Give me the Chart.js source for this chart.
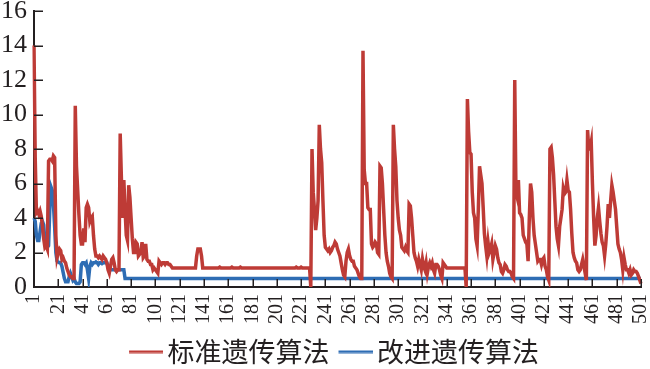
<!DOCTYPE html>
<html>
<head>
<meta charset="utf-8">
<script src="https://cdn.jsdelivr.net/npm/chart.js@4/dist/chart.umd.min.js"></script>
<style>
html,body{margin:0;padding:0;background:#fff;}
#wrap{width:650px;height:369px;position:relative;}
</style>
</head>
<body>
<div id="wrap"><canvas id="c"></canvas></div>
<script>
// categories: iteration number 1..501
const iterations = [];
for (let i = 1; i <= 501; i++) iterations.push(String(i));

const seriesNames = ['标准遗传算法', '改进遗传算法'];
const yTicks = [0, 2, 4, 6, 8, 10, 12, 14, 16];

// 标准遗传算法 (red)
const standardGA = [
14.0,7.5,4.3,4.4,4.2,4.4,4.1,3.5,2.8,2.3,      // 1-10
2.4,2.2,7.3,7.4,7.4,7.3,7.6,7.5,3.0,1.7,       // 11-20
2.0,2.2,2.1,1.6,1.7,1.5,1.4,1.1,0.9,0.7,       // 21-30
0.6,0.6,0.5,0.5,10.5,7.0,5.6,4.2,3.0,2.5,      // 31-40
2.5,3.4,2.6,4.6,4.8,4.6,3.8,4.0,4.1,3.0,       // 41-50
2.2,1.8,1.8,1.7,1.8,1.7,1.6,1.8,1.7,1.6,       // 51-60
1.4,1.0,0.8,1.2,1.6,1.7,1.4,1.0,0.9,1.0,       // 61-70
1.0,8.9,6.3,4.0,6.2,4.5,3.0,2.7,5.9,5.2,       // 71-80
4.0,2.8,2.0,2.0,2.6,2.5,1.8,1.9,2.0,2.6,       // 81-90
1.7,1.8,2.5,1.6,1.5,1.5,1.3,1.3,1.0,1.1,       // 91-100
1.0,0.9,0.8,1.5,1.4,1.3,1.4,1.4,1.3,1.4,       // 101-110
1.4,1.3,1.3,1.2,1.1,1.1,1.1,1.1,1.1,1.1,       // 111-120
1.1,1.1,1.1,1.1,1.1,1.1,1.1,1.1,1.1,1.1,       // 121-130
1.1,1.1,1.1,1.1,1.8,2.2,2.2,2.2,1.8,1.1,       // 131-140
1.1,1.1,1.1,1.1,1.1,1.1,1.1,1.1,1.1,1.1,       // 141-150
1.1,1.1,1.1,1.15,1.1,1.1,1.1,1.1,1.1,1.1,      // 151-160
1.1,1.1,1.1,1.15,1.1,1.1,1.1,1.1,1.1,1.1,      // 161-170
1.15,1.1,1.1,1.1,1.1,1.1,1.1,1.1,1.1,1.1,      // 171-180
1.1,1.1,1.1,1.1,1.1,1.1,1.1,1.1,1.1,1.1,       // 181-190
1.1,1.1,1.1,1.1,1.1,1.1,1.1,1.1,1.1,1.1,       // 191-200
1.1,1.1,1.1,1.1,1.1,1.1,1.1,1.1,1.1,1.1,       // 201-210
1.1,1.1,1.1,1.1,1.1,1.1,1.15,1.1,1.1,1.1,      // 211-220
1.15,1.1,1.1,1.1,1.1,1.1,1.1,1.1,0.0,8.0,      // 221-230
5.5,4.5,3.3,4.0,5.0,9.4,8.0,7.2,5.0,3.0,       // 231-240
2.3,2.2,2.1,2.2,2.0,2.1,2.3,2.4,2.6,2.5,       // 241-250
2.2,2.0,1.8,1.4,1.0,0.7,0.6,1.5,2.0,2.2,       // 251-260
1.8,1.6,1.5,1.5,1.2,1.1,1.0,0.8,0.6,0.5,       // 261-270
0.5,13.7,6.8,6.0,6.0,4.6,4.5,4.5,2.5,2.3,      // 271-280
2.4,2.6,2.5,2.0,1.9,7.0,6.9,6.0,4.5,3.0,       // 281-290
2.0,1.5,1.2,0.8,0.6,0.5,9.4,8.0,7.0,5.0,       // 291-300
4.0,3.3,3.0,2.3,2.2,2.1,2.3,2.1,2.0,4.8,       // 301-310
4.7,4.0,3.0,2.0,1.7,1.5,1.2,1.6,1.3,1.0,       // 311-320
1.6,1.2,1.0,1.4,0.8,1.2,1.4,1.2,1.4,1.0,       // 321-330
0.8,1.3,1.3,1.2,1.0,0.7,0.5,1.4,1.3,1.2,       // 331-340
1.1,1.1,1.1,1.1,1.1,1.1,1.1,1.1,1.1,1.1,       // 341-350
1.1,1.1,1.1,1.1,1.1,1.1,0.0,10.9,9.0,7.8,      // 351-360
7.7,5.5,4.3,4.0,2.8,2.4,4.5,7.0,6.5,6.0,       // 361-370
4.6,3.1,2.4,1.8,2.6,2.0,2.2,2.5,1.6,2.0,       // 371-380
2.4,2.2,1.7,1.4,1.3,0.9,0.8,1.0,1.3,1.2,       // 381-390
1.0,0.9,0.9,0.8,0.6,0.5,12.0,5.5,5.2,6.2,      // 391-400
4.3,4.2,4.0,3.0,2.8,2.6,2.5,1.5,4.0,6.0,       // 401-410
5.5,4.0,3.0,2.5,2.0,1.5,1.6,1.6,1.3,1.6,       // 411-420
1.7,1.2,1.0,0.6,0.4,8.0,8.1,7.5,6.5,5.0,       // 421-430
3.5,2.8,2.4,3.5,4.0,4.5,5.7,5.4,5.5,6.2,       // 431-440
5.6,5.5,4.5,3.1,2.0,1.7,1.5,1.4,1.0,0.9,       // 441-450
1.0,1.3,1.6,1.2,0.8,0.4,9.1,8.0,8.0,8.4,       // 451-460
6.0,4.0,2.4,3.0,4.0,4.6,3.8,3.1,2.6,2.4,       // 461-470
1.8,2.5,3.5,4.8,4.0,5.0,5.9,5.5,5.0,4.5,       // 471-480
3.5,2.5,2.2,2.0,1.6,1.0,1.7,1.3,1.0,1.0,       // 481-490
0.8,1.0,0.7,0.8,1.0,0.9,0.9,0.8,0.6,0.4,       // 491-500
0.2                                            // 501
];

// 改进遗传算法 (blue)
const improvedGA = [
4.0,3.8,3.0,2.7,2.7,3.2,3.7,3.8,3.6,2.6,       // 1-10
2.3,2.3,2.4,4.5,5.8,5.6,4.8,3.5,2.0,1.5,       // 11-20
1.45,1.4,1.4,1.2,0.85,0.5,0.3,0.3,0.3,0.6,     // 21-30
0.8,0.6,0.4,0.5,0.3,0.2,0.2,0.2,0.3,1.3,       // 31-40
1.4,1.4,1.3,1.4,1.0,0.5,1.2,1.4,1.3,1.4,       // 41-50
1.4,1.45,1.4,1.3,1.4,1.4,1.35,1.4,1.4,1.4,     // 51-60
1.4,1.2,1.0,1.0,1.0,1.0,1.0,1.0,1.0,1.0,       // 61-70
1.0,1.0,1.0,1.0,1.0,0.5,0.5,0.5,0.5,0.5,       // 71-80
0.5,0.5,0.5,0.5,0.5,0.5,0.5,0.5,0.5,0.5,       // 81-90
0.5,0.5,0.5,0.5,0.5,0.5,0.5,0.5,0.5,0.5,       // 91-100
0.5,0.5,0.5,0.5,0.5,0.5,0.5,0.5,0.5,0.5,       // 101-110
0.5,0.5,0.5,0.5,0.5,0.5,0.5,0.5,0.5,0.5,       // 111-120
0.5,0.5,0.5,0.5,0.5,0.5,0.5,0.5,0.5,0.5,       // 121-130
0.5,0.5,0.5,0.5,0.5,0.5,0.5,0.5,0.5,0.5,       // 131-140
0.5,0.5,0.5,0.5,0.5,0.5,0.5,0.5,0.5,0.5,       // 141-150
0.5,0.5,0.5,0.5,0.5,0.5,0.5,0.5,0.5,0.5,       // 151-160
0.5,0.5,0.5,0.5,0.5,0.5,0.5,0.5,0.5,0.5,       // 161-170
0.5,0.5,0.5,0.5,0.5,0.5,0.5,0.5,0.5,0.5,       // 171-180
0.5,0.5,0.5,0.5,0.5,0.5,0.5,0.5,0.5,0.5,       // 181-190
0.5,0.5,0.5,0.5,0.5,0.5,0.5,0.5,0.5,0.5,       // 191-200
0.5,0.5,0.5,0.5,0.5,0.5,0.5,0.5,0.5,0.5,       // 201-210
0.5,0.5,0.5,0.5,0.5,0.5,0.5,0.5,0.5,0.5,       // 211-220
0.5,0.5,0.5,0.5,0.5,0.5,0.5,0.5,0.5,0.5,       // 221-230
0.5,0.5,0.5,0.5,0.5,0.5,0.5,0.5,0.5,0.5,       // 231-240
0.5,0.5,0.5,0.5,0.5,0.5,0.5,0.5,0.5,0.5,       // 241-250
0.5,0.5,0.5,0.5,0.5,0.5,0.5,0.5,0.5,0.5,       // 251-260
0.5,0.5,0.5,0.5,0.5,0.5,0.5,0.5,0.5,0.5,       // 261-270
0.5,0.5,0.5,0.5,0.5,0.5,0.5,0.5,0.5,0.5,       // 271-280
0.5,0.5,0.5,0.5,0.5,0.5,0.5,0.5,0.5,0.5,       // 281-290
0.5,0.5,0.5,0.5,0.5,0.5,0.5,0.5,0.5,0.5,       // 291-300
0.5,0.5,0.5,0.5,0.5,0.5,0.5,0.5,0.5,0.5,       // 301-310
0.5,0.5,0.5,0.5,0.5,0.5,0.5,0.5,0.5,0.5,       // 311-320
0.5,0.5,0.5,0.5,0.5,0.5,0.5,0.5,0.5,0.5,       // 321-330
0.5,0.5,0.5,0.5,0.5,0.5,0.5,0.5,0.5,0.5,       // 331-340
0.5,0.5,0.5,0.5,0.5,0.5,0.5,0.5,0.5,0.5,       // 341-350
0.5,0.5,0.5,0.5,0.5,0.5,0.5,0.5,0.5,0.5,       // 351-360
0.5,0.5,0.5,0.5,0.5,0.5,0.5,0.5,0.5,0.5,       // 361-370
0.5,0.5,0.5,0.5,0.5,0.5,0.5,0.5,0.5,0.5,       // 371-380
0.5,0.5,0.5,0.5,0.5,0.5,0.5,0.5,0.5,0.5,       // 381-390
0.5,0.5,0.5,0.5,0.5,0.5,0.5,0.5,0.5,0.5,       // 391-400
0.5,0.5,0.5,0.5,0.5,0.5,0.5,0.5,0.5,0.5,       // 401-410
0.5,0.5,0.5,0.5,0.5,0.5,0.5,0.5,0.5,0.5,       // 411-420
0.5,0.5,0.5,0.5,0.5,0.5,0.5,0.5,0.5,0.5,       // 421-430
0.5,0.5,0.5,0.5,0.5,0.5,0.5,0.5,0.5,0.5,       // 431-440
0.5,0.5,0.5,0.5,0.5,0.5,0.5,0.5,0.5,0.5,       // 441-450
0.5,0.5,0.5,0.5,0.5,0.5,0.5,0.5,0.5,0.5,       // 451-460
0.5,0.5,0.5,0.5,0.5,0.5,0.5,0.5,0.5,0.5,       // 461-470
0.5,0.5,0.5,0.5,0.5,0.5,0.5,0.5,0.5,0.5,       // 471-480
0.5,0.5,0.5,0.5,0.5,0.5,0.5,0.5,0.5,0.5,       // 481-490
0.5,0.5,0.5,0.5,0.5,0.5,0.5,0.5,0.5,0.5,       // 491-500
0.5                                            // 501
];

const RED = '#BE3B36';
const BLUE = '#2E6DB4';
const AXIS = '#231f20';
const TICK_EVERY = 20;

// legend swatch: a short horizontal line, drawn by the legend as its point style
function swatch(color) {
  const c = document.createElement('canvas');
  c.width = 40; c.height = 4;
  const g = c.getContext('2d');
  g.fillStyle = color;
  g.fillRect(6, 1, 34, 2.5);
  return c;
}
const swatches = [swatch(RED), swatch(BLUE)];

const innerTicks = {
  id: 'innerTicks',
  afterLayout(chart) {
    // the legend in the reference sits centred under the plot area
    if (chart.legend) chart.legend.left += 30;
  },
  afterDatasetsDraw(chart) {
    const {ctx, chartArea, scales} = chart;
    const x = scales.x, y = scales.y;
    ctx.save();
    ctx.strokeStyle = AXIS;
    ctx.lineWidth = 1.5;
    ctx.beginPath();
    for (let i = 0; i < iterations.length; i += TICK_EVERY) {
      const px = Math.round(x.getPixelForValue(i)) + 0.25;
      ctx.moveTo(px, chartArea.bottom);
      ctx.lineTo(px, chartArea.bottom - 8);
    }
    yTicks.forEach(v => {
      const py = Math.round(y.getPixelForValue(v)) + 0.25;
      ctx.moveTo(chartArea.left, py);
      ctx.lineTo(chartArea.left + 9, py);
    });
    ctx.stroke();
    ctx.restore();
  }
};

new Chart(document.getElementById('c'), {
  type: 'line',
  data: {
    labels: iterations,
    datasets: [
      { label: seriesNames[0], data: standardGA, borderColor: RED, backgroundColor: RED,
        borderWidth: 3.5, pointRadius: 0, tension: 0, fill: false },
      { label: seriesNames[1], data: improvedGA, borderColor: BLUE, backgroundColor: BLUE,
        borderWidth: 3.5, pointRadius: 0, tension: 0, fill: false }
    ]
  },
  options: {
    responsive: true,
    maintainAspectRatio: false,
    devicePixelRatio: 1,
    animation: false,
    layout: { padding: { left: 0, right: 9, top: 11, bottom: -6 } },
    plugins: {
      tooltip: { enabled: false },
      legend: {
        position: 'bottom',
        labels: {
          color: AXIS,
          font: { family: '"Noto Sans CJK SC", sans-serif', size: 27 },
          usePointStyle: true,
          pointStyleWidth: 22,
          boxHeight: 4,
          padding: 12,
          generateLabels(chart) {
            const items = Chart.defaults.plugins.legend.labels.generateLabels(chart);
            items.forEach((it, i) => { it.pointStyle = swatches[i]; it.lineWidth = 0; });
            return items;
          }
        }
      }
    },
    scales: {
      x: {
        type: 'category',
        grid: { display: true, drawOnChartArea: false, drawTicks: false },
        border: { display: true, color: AXIS, width: 2 },
        ticks: {
          autoSkip: false,
          minRotation: 90,
          maxRotation: 90,
          padding: 7,
          color: AXIS,
          font: { family: '"Liberation Serif", serif', size: 20, lineHeight: 1 },
          callback: function(val, idx) {
            return idx % TICK_EVERY === 0 ? this.getLabelForValue(val) : null;
          }
        },
        afterFit(scale) {
          scale.height = 39;
          scale.paddingLeft = 0; scale.paddingRight = 0;
        }
      },
      y: {
        min: 0, max: 16,
        afterBuildTicks(scale) { scale.ticks = yTicks.map(v => ({ value: v })); },
        grid: { display: true, drawOnChartArea: false, drawTicks: false },
        border: { display: true, color: AXIS, width: 2 },
        ticks: {
          padding: 7,
          color: AXIS,
          font: { family: '"Liberation Serif", serif', size: 26, lineHeight: 1 }
        },
        afterFit(scale) {
          scale.width = 34;
          scale.paddingTop = 0; scale.paddingBottom = 0;
        }
      }
    }
  },
  plugins: [innerTicks]
});
</script>
</body>
</html>
